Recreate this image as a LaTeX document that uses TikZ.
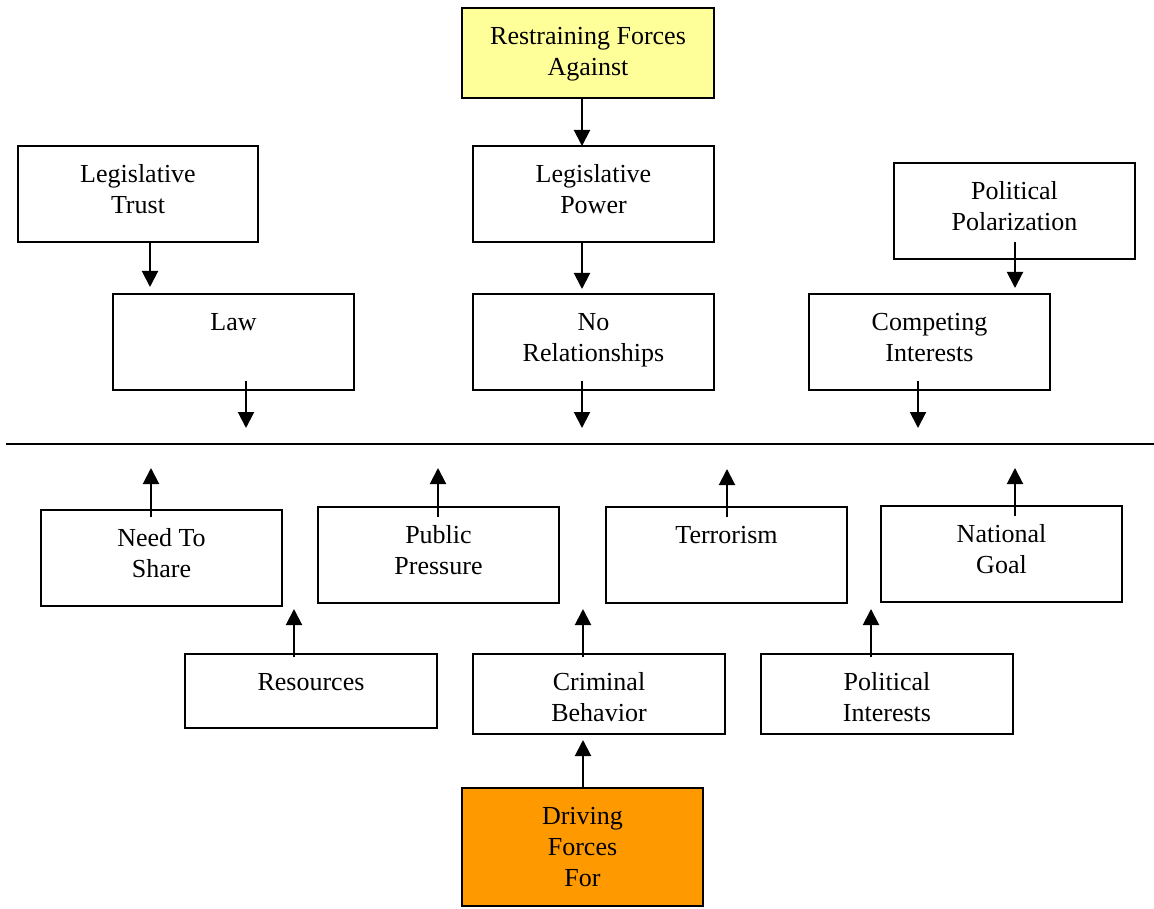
\documentclass[tikz,border=0pt]{standalone}
\usepackage{fontspec}
\setmainfont{Liberation Serif}
\usetikzlibrary{arrows.meta}
\definecolor{restrain}{HTML}{FFFF99}
\definecolor{drive}{HTML}{FF9900}
\newcommand{\bxtext}[3]{\parbox[t][#2pt][t]{#1pt}{\centering\rule{0pt}{36.5pt}#3}}
\tikzset{
  box/.style={draw, line width=2pt, inner sep=0pt, outer sep=0pt, anchor=north west, fill=white},
  arr/.style={line width=2pt, -{Triangle[width=16pt,length=16pt]}},
}
\begin{document}
\begin{tikzpicture}[x=1pt,y=-1pt,font=\fontsize{26}{31}\selectfont]
\useasboundingbox (0,0) rectangle (1154,909);
% boxes
\node[box,fill=restrain] (rfa) at (462,8) {\bxtext{252}{90}{Restraining Forces\\Against}};
\node[box] (ltrust) at (18,146) {\bxtext{240}{96}{Legislative\\Trust}};
\node[box] (lpower) at (473,146) {\bxtext{241}{96}{Legislative\\Power}};
\node[box] (polar) at (894,163) {\bxtext{241}{96}{Political\\Polarization}};
\node[box] (law) at (113,294) {\bxtext{241}{96}{Law}};
\node[box] (norel) at (473,294) {\bxtext{241}{96}{No\\Relationships}};
\node[box] (compete) at (809,294) {\bxtext{241}{96}{Competing\\Interests}};
\node[box] (share) at (41,510) {\bxtext{241}{96}{Need To\\Share}};
\node[box] (pressure) at (318,507) {\bxtext{241}{96}{Public\\Pressure}};
\node[box] (terror) at (606,507) {\bxtext{241}{96}{Terrorism}};
\node[box] (goal) at (881,506) {\bxtext{241}{96}{National\\Goal}};
\node[box] (resources) at (185,654) {\bxtext{252}{74}{Resources}};
\node[box] (criminal) at (473,654) {\bxtext{252}{80}{Criminal\\Behavior}};
\node[box] (polint) at (761,654) {\bxtext{252}{80}{Political\\Interests}};
\node[box,fill=drive] (driving) at (462,788) {\bxtext{241}{118}{Driving\\Forces\\For}};
% dividing line
\coordinate (lineL) at (6,444);
\coordinate (lineR) at (1154,444);
\draw[line width=2pt] (lineL) -- (lineR);
% column coordinates
\coordinate (x150) at (150,0);
\coordinate (x582) at (582,0);
\coordinate (x1015) at (1015,0);
\coordinate (x583) at (583,0);
% restraining arrows
\draw[arr] (rfa.south -| x582) -- (lpower.north -| x582);
\draw[arr, shorten >=7pt] (ltrust.south -| x150) -- (law.north -| x150);
\draw[arr, shorten >=5pt] (lpower.south -| x582) -- (norel.north -| x582);
\draw[arr, shorten <=-17pt, shorten >=6pt] (polar.south -| x1015) -- (compete.north -| x1015);
\coordinate (t1) at (246,428);
\coordinate (t2) at (582,428);
\coordinate (t3) at (918,428);
\draw[arr, shorten <=-9pt] (law.south -| t1) -- (t1);
\draw[arr, shorten <=-9pt] (norel.south -| t2) -- (t2);
\draw[arr, shorten <=-9pt] (compete.south -| t3) -- (t3);
% driving arrows
\coordinate (u1) at (151,468);
\coordinate (u2) at (438,468);
\coordinate (u3) at (727,469);
\coordinate (u4) at (1015,468);
\draw[arr, shorten <=-7pt] (share.north -| u1) -- (u1);
\draw[arr, shorten <=-10pt] (pressure.north -| u2) -- (u2);
\draw[arr, shorten <=-10pt] (terror.north -| u3) -- (u3);
\draw[arr, shorten <=-10pt] (goal.north -| u4) -- (u4);
\coordinate (x294) at (294,0);
\coordinate (x871) at (871,0);
\draw[arr, shorten <=-3pt, shorten >=3pt] (resources.north -| x294) -- (share.south -| x294);
\draw[arr, shorten <=-3pt, shorten >=6pt] (criminal.north -| x583) -- (pressure.south -| x583);
\draw[arr, shorten <=-3pt, shorten >=7pt] (polint.north -| x871) -- (goal.south -| x871);
\draw[arr, shorten >=6pt] (driving.north -| x583) -- (criminal.south -| x583);
\end{tikzpicture}
\end{document}
